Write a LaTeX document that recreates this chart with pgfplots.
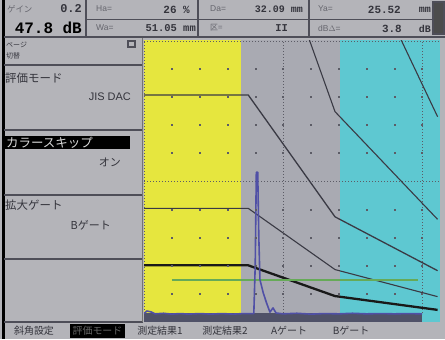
\documentclass[border=0pt]{standalone}
\usepackage{pgfplots}
\pgfplotsset{compat=1.18}
\usepackage{fontspec}
\setmainfont{Liberation Sans}
\newfontfamily\cjk{Noto Sans CJK JP}
\newfontfamily\mono{Liberation Mono}
\definecolor{panel}{HTML}{B4B4B9}
\definecolor{plotgray}{HTML}{A9AAB2}
\definecolor{yel}{HTML}{E6E63E}
\definecolor{cyn}{HTML}{5EC8D1}
\definecolor{sep}{HTML}{4E4E58}
\definecolor{lbl}{HTML}{66666E}
\definecolor{txt}{HTML}{34343C}
\definecolor{dotc}{HTML}{5C5C66}
\definecolor{curve}{HTML}{3A3A44}
\definecolor{echo}{HTML}{5050A6}
\definecolor{gate}{HTML}{66AA58}
\definecolor{band}{HTML}{505268}
\newcommand{\fs}[1]{\fontsize{#1}{#1}\selectfont}

\begin{document}
\begin{tikzpicture}
\begin{scope}[x=1bp,y=-1bp]
\path[use as bounding box] (0,0) rectangle (445,339);
\fill[panel] (0,0) rectangle (445,339);
\fill[black] (1.5,0) rectangle (4.5,339);
% header
\draw[sep, line width=1.6bp] (4,37) -- (445,37);
\foreach \x in {86,198,309} \draw[sep, line width=1.2bp] (\x,0) -- (\x,37);
\draw[sep, line width=1bp] (86,19) -- (432,19);
\fill[sep] (432,1) rectangle (445,35);
\fill[black!70] (434,3) rectangle (443,33);
\node[anchor=west, inner sep=0, lbl] at (7,9) {\cjk\fs{8.5}ゲイン};
\node[anchor=east, inner sep=0, txt] at (82,9) {\mono\bfseries\fs{12}0.2};
\node[anchor=east, inner sep=0, black] at (82,27.5) {\mono\bfseries\fs{16}47.8 dB};
\node[anchor=west, inner sep=0, lbl] at (96,9) {\fs{8.5}Ha=};
\node[anchor=east, inner sep=0, txt] at (190,9.5) {\mono\bfseries\fs{11}26 \%};
\node[anchor=west, inner sep=0, lbl] at (96,28) {\fs{8.5}Wa=};
\node[anchor=east, inner sep=0, txt] at (196,28.5) {\mono\bfseries\fs{10.5}51.05 mm};
\node[anchor=west, inner sep=0, lbl] at (210,9) {\fs{8.5}Da=};
\node[anchor=east, inner sep=0, txt] at (303,9.5) {\mono\bfseries\fs{10}32.09 mm};
\node[anchor=west, inner sep=0, lbl] at (210,28) {\cjk\fs{8}区=};
\node[anchor=east, inner sep=0, txt] at (288,28.5) {\mono\bfseries\fs{10.5}II};
\node[anchor=west, inner sep=0, lbl] at (318,9) {\fs{8.5}Ya=};
\node[anchor=east, inner sep=0, txt] at (401,9.5) {\mono\bfseries\fs{11}25.52};
\node[anchor=east, inner sep=0, txt] at (431,9.5) {\mono\bfseries\fs{10}mm};
\node[anchor=west, inner sep=0, lbl] at (318,28) {\fs{8.5}dB$\Delta$=};
\node[anchor=east, inner sep=0, txt] at (402,28.5) {\mono\bfseries\fs{11}3.8};
\node[anchor=east, inner sep=0, txt] at (431,28.5) {\mono\bfseries\fs{10}dB};
% left panel
\foreach \y in {65,130,194.5,258.5,321.5} \draw[sep, line width=2bp] (4,\y) -- (143,\y);
\draw[black!55, line width=0.8bp] (142.5,38) -- (142.5,322);
\node[anchor=west, inner sep=0, txt] at (6,45) {\cjk\fs{7}ページ};
\node[anchor=west, inner sep=0, txt] at (6,56) {\cjk\fs{7}切替};
\fill[sep] (127,40) rectangle (136,48);
\fill[panel] (129,42) rectangle (134,46);
\node[anchor=west, inner sep=0, txt] at (5,78) {\cjk\fs{11.5}評価モード};
\node[anchor=east, inner sep=0, txt] at (131,97) {\fs{11}JIS DAC};
\fill[black] (5,136) rectangle (130,149);
\node[anchor=west, inner sep=0, black!15] at (6,142.5) {\cjk\fs{12.5}カラースキップ};
\node[anchor=east, inner sep=0, txt] at (121,162) {\cjk\fs{11}オン};
\node[anchor=west, inner sep=0, txt] at (5,205) {\cjk\fs{11.5}拡大ゲート};
\node[anchor=east, inner sep=0, txt] at (111,225) {\cjk\fs{11}Bゲート};
% bottom menu
\node[inner sep=0, txt] at (34,331) {\cjk\fs{10}斜角設定};
\fill[black] (70,324) rectangle (125,338);
\node[inner sep=0, black!60] at (97.5,331) {\cjk\fs{10}評価モード};
\node[inner sep=0, txt] at (160,331) {\cjk\fs{10}測定結果1};
\node[inner sep=0, txt] at (225,331) {\cjk\fs{10}測定結果2};
\node[inner sep=0, txt] at (289,331) {\cjk\fs{10}Aゲート};
\node[inner sep=0, txt] at (351,331) {\cjk\fs{10}Bゲート};
\end{scope}

\begin{axis}[at={(144bp,-322bp)}, anchor=south west, scale only axis,
  width=296bp, height=282bp, xmin=0, xmax=10.647, ymin=0, ymax=100,
  axis line style={draw=none}, ticks=none, clip=true]
\addplot[fill=yel, draw=none] coordinates {(0,100)(3.49,100)} \closedcycle;
\addplot[fill=plotgray, draw=none] coordinates {(3.49,100)(7.05,100)} \closedcycle;
\addplot[fill=cyn, draw=none] coordinates {(7.05,100)(10.647,100)} \closedcycle;
\addplot[fill=band, draw=none] coordinates {(0,3.2)(10,3.2)} \closedcycle;
% grid dots
\addplot[only marks, mark=square*, mark size=0.5bp, dotc] coordinates {
(1,10)(2,10)(3,10)(4,10)(5,10)(6,10)(7,10)(8,10)(9,10)(10,10)
(1,20)(2,20)(3,20)(4,20)(5,20)(6,20)(7,20)(8,20)(9,20)(10,20)
(1,30)(2,30)(3,30)(4,30)(5,30)(6,30)(7,30)(8,30)(9,30)(10,30)
(1,40)(2,40)(3,40)(4,40)(5,40)(6,40)(7,40)(8,40)(9,40)(10,40)
(1,60)(2,60)(3,60)(4,60)(5,60)(6,60)(7,60)(8,60)(9,60)(10,60)
(1,70)(2,70)(3,70)(4,70)(5,70)(6,70)(7,70)(8,70)(9,70)(10,70)
(1,80)(2,80)(3,80)(4,80)(5,80)(6,80)(7,80)(8,80)(9,80)(10,80)
(1,90)(2,90)(3,90)(4,90)(5,90)(6,90)(7,90)(8,90)(9,90)(10,90)};
% dotted lines
\addplot[dotc, line width=0.9bp, dash pattern=on 1bp off 2bp] coordinates {(5,3.2)(5,100)};
\addplot[dotc, line width=0.9bp, dash pattern=on 1bp off 2bp] coordinates {(10,3.2)(10,100)};
\addplot[dotc, line width=0.9bp, dash pattern=on 1bp off 2bp] coordinates {(0,50)(10.647,50)};
\addplot[dotc, line width=1bp, dash pattern=on 1bp off 2bp] coordinates {(0,99.6)(10.647,99.6)};
\addplot[dotc, line width=1bp, dash pattern=on 1bp off 2bp] coordinates {(0.03,3.2)(0.03,100)};
% DAC curves
\addplot[curve, line width=1.1bp] coordinates {(9.25,100)(10.56,72.8)};
\addplot[curve, line width=1.1bp] coordinates {(5.95,100)(6.87,74.6)(10.56,36.4)};
\addplot[curve, line width=1.3bp] coordinates {(0,80.5)(3.75,80.5)(6.87,37.3)(10.56,18.2)};
\addplot[curve, line width=1.1bp] coordinates {(0,40.3)(3.75,40.3)(6.87,18.6)(10.56,9.0)};
\addplot[black!90, line width=2.3bp] coordinates {(0,20.1)(3.75,20.1)(6.87,9.2)(10.56,4.3)};
% gate
\addplot[gate, line width=1.2bp] coordinates {(1,14.9)(9.86,14.9)};
% echo
\addplot[echo, line width=1.6bp, line join=round] coordinates {
(0,3.0)(0.1,3.9)(0.25,3.6)(0.4,2.9)(0.7,3.1)(1.0,2.8)(1.3,3.0)(1.6,2.8)(2.0,3.0)(2.4,2.8)(2.8,3.0)(3.2,2.8)(3.6,3.0)
(3.95,3.0)(4.0,20)(4.04,53.1)(4.09,53.1)(4.13,30)(4.17,15)(4.29,10.3)(4.41,6.7)(4.53,3.5)(4.64,5.0)(4.75,3.2)
(5.0,2.9)(5.5,3.1)(6.0,2.8)(6.5,3.0)(7.0,2.9)(7.5,3.1)(8.0,2.9)(8.5,3.0)(9.0,2.9)(9.5,3.0)(10.0,2.9)};
\end{axis}
\end{tikzpicture}
\end{document}
